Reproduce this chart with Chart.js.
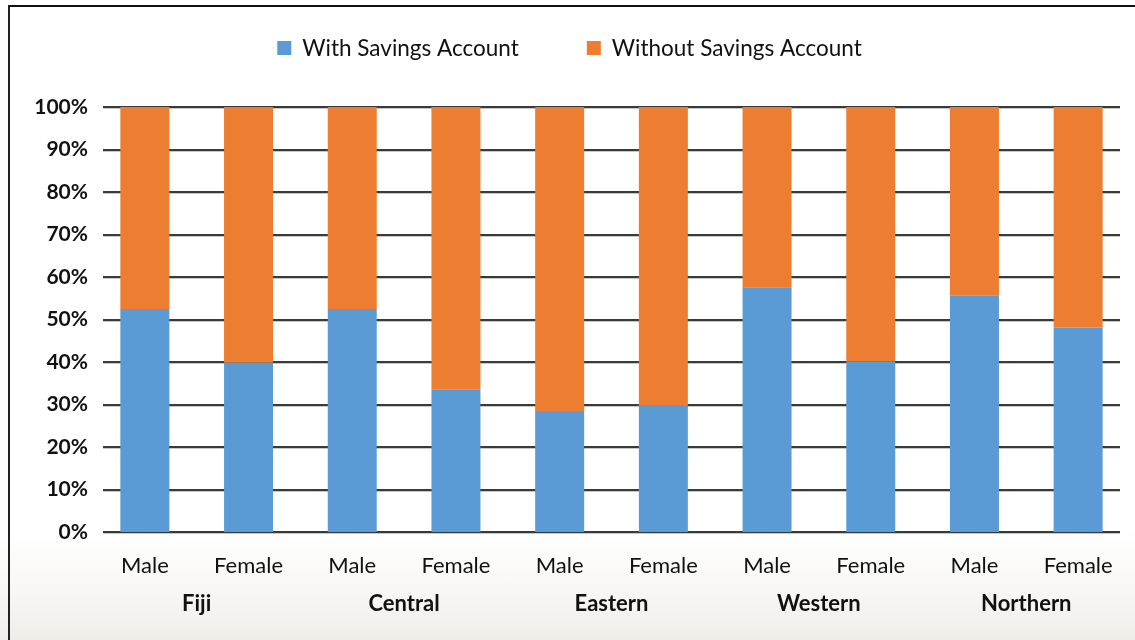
<!DOCTYPE html>
<html>
<head>
<meta charset="utf-8">
<script src="https://cdn.jsdelivr.net/npm/chart.js@4.4.0/dist/chart.umd.min.js"></script>
<style>
  html, body { margin: 0; padding: 0; }
  body { width: 1135px; height: 640px; position: relative; overflow: hidden;
    background: linear-gradient(to bottom, #ffffff 0px, #ffffff 530px, #f8f7f5 590px, #efede8 640px); }
  #wrap { position: absolute; left: 0; top: 0; width: 1135px; height: 640px; }
  .bt { position: absolute; left: 9px; top: 5px; width: 1126px; height: 2px; background: #111; }
  .bl { position: absolute; left: 8px; top: 5px; width: 2px; height: 635px; background: #222; }
</style>
</head>
<body>
<div class="bt"></div>
<div class="bl"></div>
<div id="wrap"><canvas id="c" width="1135" height="640"></canvas></div>
<script>
const categories = ['Male','Female','Male','Female','Male','Female','Male','Female','Male','Female'];
const groups = ['Fiji','Central','Eastern','Western','Northern'];
const withSavings = [52.5, 39.8, 52.5, 33.6, 28.5, 29.9, 57.6, 40.1, 55.6, 48.1];
const withoutSavings = withSavings.map(v => +(100 - v).toFixed(1));
const yTickLabels = ['0%','10%','20%','30%','40%','50%','60%','70%','80%','90%','100%'];
const seriesNames = ['With Savings Account', 'Without Savings Account'];
const seriesColors = ['#5B9BD5', '#ED7D31'];

const FONT = 'Lato, "Open Sans", sans-serif';

const gridPlugin = {
  id: 'customGrid',
  beforeDatasetsDraw(chart) {
    const y = chart.scales.y, area = chart.chartArea, ctx = chart.ctx;
    ctx.save();
    y.ticks.forEach(t => {
      const py = Math.round(y.getPixelForValue(t.value));
      ctx.fillStyle = '#c8c8c8';
      ctx.fillRect(area.left + 10, py + 1, area.right - area.left - 20, 1);
      ctx.fillStyle = '#3a3a3a';
      ctx.fillRect(area.left + 10, py - 1, area.right - area.left - 20, 2);
    });
    ctx.restore();
  }
};

const legendPlugin = {
  id: 'customLegend',
  afterDraw(chart) {
    const ctx = chart.ctx;
    ctx.save();
    ctx.font = '22.5px ' + FONT;
    const box = 14, gapText = 11, gapItem = 68;
    const widths = seriesNames.map(n => ctx.measureText(n).width);
    let total = 0;
    widths.forEach((w, i) => { total += box + gapText + w + (i < widths.length - 1 ? gapItem : 0); });
    let x = chart.width / 2 - total / 2 + 2;
    const cy = 48;
    seriesNames.forEach((n, i) => {
      ctx.fillStyle = seriesColors[i];
      ctx.fillRect(x, cy - 7, box, box);
      x += box + gapText;
      ctx.fillStyle = '#111';
      ctx.textBaseline = 'middle';
      ctx.fillText(n, x, cy + 1);
      x += widths[i] + gapItem;
    });
    ctx.restore();
  }
};

new Chart(document.getElementById('c'), {
  type: 'bar',
  data: {
    labels: categories,
    datasets: [
      { label: seriesNames[0], data: withSavings, backgroundColor: seriesColors[0], xAxisID: 'x' },
      { label: seriesNames[1], data: withoutSavings, backgroundColor: seriesColors[1], xAxisID: 'x' }
    ]
  },
  options: {
    responsive: false,
    animation: false,
    devicePixelRatio: 1,
    layout: { padding: { top: 107, right: 5, bottom: 18, left: 0 } },
    datasets: { bar: { barPercentage: 0.4725, categoryPercentage: 1.0 } },
    plugins: { legend: { display: false }, tooltip: { enabled: false } },
    scales: {
      x: {
        stacked: true,
        position: 'bottom',
        grid: { display: false, drawTicks: false },
        border: { display: false },
        afterFit(scale) { scale.height = 50; },
        ticks: { color: '#111', font: { family: FONT, size: 22 }, padding: 21, maxRotation: 0, autoSkip: false }
      },
      x2: {
        type: 'category',
        labels: groups,
        position: 'bottom',
        grid: { display: false, drawTicks: false },
        border: { display: false },
        afterFit(scale) { scale.height = 40; },
        ticks: { color: '#111', font: { family: FONT, size: 22, weight: 'bold' }, padding: 9, maxRotation: 0, autoSkip: false }
      },
      y: {
        stacked: true,
        min: 0, max: 100,
        grid: { display: false, drawTicks: false },
        border: { display: false },
        afterFit(scale) { scale.width = 93; },
        ticks: {
          stepSize: 10,
          padding: 5,
          color: '#111',
          font: { family: FONT, size: 21, weight: 'bold' },
          callback: (v) => yTickLabels[Math.round(v / 10)]
        }
      }
    }
  },
  plugins: [gridPlugin, legendPlugin]
});
</script>
</body>
</html>
